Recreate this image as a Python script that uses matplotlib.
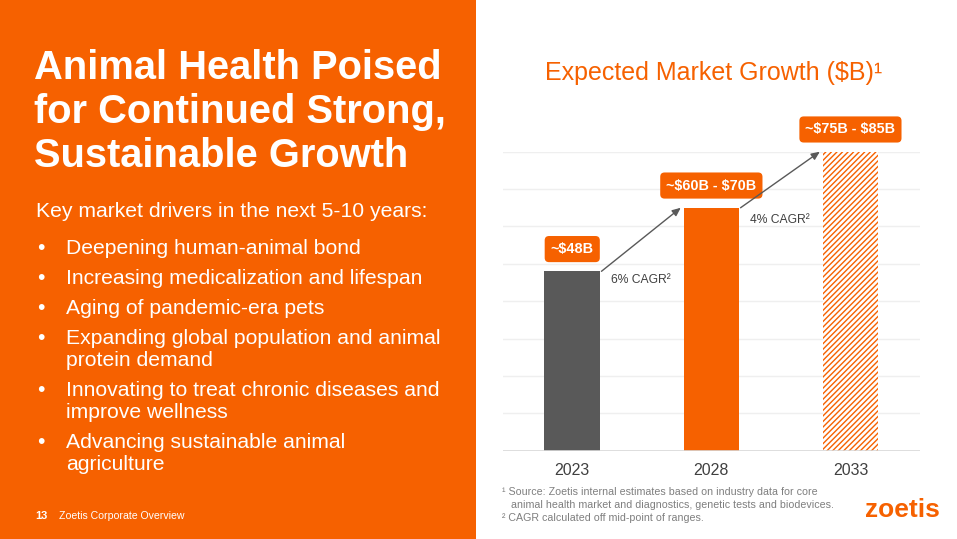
import matplotlib
matplotlib.use("Agg")
import matplotlib.pyplot as plt
from matplotlib.patches import Rectangle

plt.rcParams['font.family'] = ['Liberation Sans', 'DejaVu Sans']
plt.rcParams['hatch.linewidth'] = 1.0

ORANGE = "#F66100"
DARK = "#595959"
TEXT_GRAY = "#404040"

# chart data
years = ["2023", "2028", "2033"]
market_size = [48, 65, 80]          # $B (mid-points of ranges)
value_labels = [r"~\$48B", r"~\$60B - \$70B", r"~\$75B - \$85B"]
cagr_labels = ["6% CAGR²", "4% CAGR²"]

headline = ["Animal Health Poised", "for Continued Strong,", "Sustainable Growth"]
intro = "Key market drivers in the next 5-10 years:"
drivers = [
    ["Deepening human-animal bond"],
    ["Increasing medicalization and lifespan"],
    ["Aging of pandemic-era pets"],
    ["Expanding global population and animal", "protein demand"],
    ["Innovating to treat chronic diseases and", "improve wellness"],
    ["Advancing sustainable animal", "agriculture"],
]
footnotes = [
    "¹ Source: Zoetis internal estimates based on industry data for core",
    "   animal health market and diagnostics, genetic tests and biodevices.",
    "² CAGR calculated off mid-point of ranges.",
]

W, H = 957, 539
fig = plt.figure(figsize=(W / 100, H / 100), dpi=100)
fig.patch.set_facecolor("white")

def fx(px):
    return px / W

def fy(py):
    return 1 - py / H

# left orange panel
fig.patches.append(Rectangle((0, 0), fx(476), 1, transform=fig.transFigure,
                             facecolor=ORANGE, edgecolor="none", zorder=0))

for i, line in enumerate(headline):
    fig.text(fx(34), fy(79 + i * 44), line, color="white", fontsize=28.7,
             fontweight="bold", va="baseline", ha="left")

fig.text(fx(36), fy(217), intro, color="white", fontsize=15.2, va="baseline")

y = 254
for item in drivers:
    fig.text(fx(37), fy(y), "•", color="white", fontsize=15.2, va="baseline")
    for j, line in enumerate(item):
        fig.text(fx(66), fy(y + j * 22), line, color="white", fontsize=15.2,
                 va="baseline")
    y += 22 * (len(item) - 1) + 30

fig.text(fx(35), fy(516), "13", color="white", fontsize=8, fontweight="bold",
         va="center")
fig.text(fx(59), fy(516), "Zoetis Corporate Overview", color="white",
         fontsize=7.6, va="center")

# chart title
fig.text(fx(714), fy(73), r"Expected Market Growth (\$B)¹", color=ORANGE,
         fontsize=18, ha="center", va="center")

# chart
ax = fig.add_axes([fx(502.7), fy(450.7), fx(920 - 502.7), (450.7 - 151.7) / H])
x = list(range(len(years)))
bars = ax.bar(x, market_size, width=0.4, color=[DARK, ORANGE, "white"],
              linewidth=0, zorder=3)
bars[2].set_hatch("//////")
bars[2].set_edgecolor(ORANGE)
bars[2].set_linewidth(0)

ax.set_xlim(-0.5, 2.5)
ax.set_ylim(0, 80)
ax.set_yticks(range(0, 81, 10))
ax.yaxis.grid(True, color="#EFEFEF", linewidth=1, zorder=0)
ax.set_axisbelow(True)
ax.axhline(0, color="#D9D9D9", linewidth=1.2, zorder=4)
ax.tick_params(axis="y", length=0, labelleft=False)
ax.tick_params(axis="x", length=0, pad=9, labelsize=11.5, labelcolor=TEXT_GRAY)
ax.set_xticks(x)
ax.set_xticklabels(years)
for s in ax.spines.values():
    s.set_visible(False)

# value boxes
for xi, v, lab in zip(x, market_size, value_labels):
    ax.annotate(lab, (xi, v), xytext=(0, 16), textcoords="offset points",
                ha="center", va="center", color="white", fontsize=10.4,
                fontweight="bold", annotation_clip=False, zorder=6,
                bbox=dict(boxstyle="round,pad=0.42,rounding_size=0.3",
                          facecolor=ORANGE, edgecolor="none"))

# growth arrows and CAGR labels
for i, lab in enumerate(cagr_labels):
    x0, y0 = x[i] + 0.21, market_size[i]
    x1, y1 = x[i + 1] - 0.22, market_size[i + 1]
    ax.annotate("", xy=(x1, y1), xytext=(x0, y0), annotation_clip=False,
                arrowprops=dict(arrowstyle="-|>,head_length=0.5,head_width=0.22",
                                color=DARK, lw=1, shrinkA=0, shrinkB=0),
                zorder=6)
    ax.annotate(lab, ((x0 + x1) / 2, (y0 + y1) / 2), xytext=(0, -29),
                textcoords="offset points", ha="center", va="center",
                color=TEXT_GRAY, fontsize=8.7, annotation_clip=False)

# footnotes
for i, line in enumerate(footnotes):
    fig.text(fx(502), fy(492 + i * 13), line, color="#7F7F7F", fontsize=7.7,
             va="center")

fig.text(fx(902), fy(510), "zoetis", color=ORANGE, fontsize=19,
         fontweight="bold", ha="center", va="center")

fig.savefig("out.png", dpi=100, facecolor="white")
